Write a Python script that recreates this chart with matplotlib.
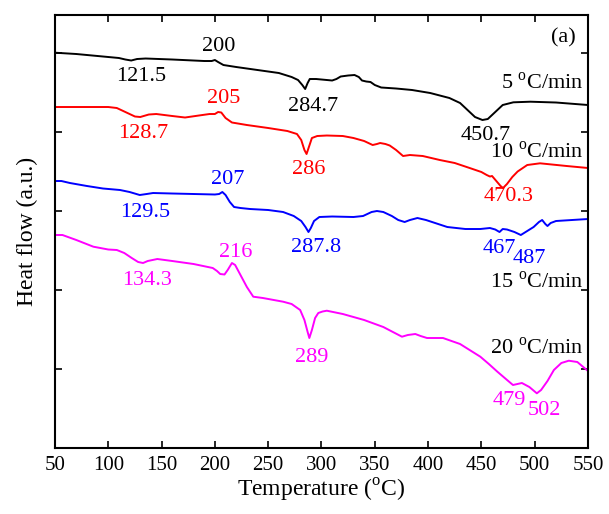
import matplotlib
matplotlib.use("Agg")
import matplotlib.pyplot as plt

plt.rcParams['font.family'] = ['Liberation Serif', 'DejaVu Serif']
plt.rcParams['mathtext.fontset'] = 'custom'
plt.rcParams['mathtext.rm'] = 'Liberation Serif'

# heat flow curves (a.u., offset for display)
t_5 = [50, 70, 90, 110, 116, 121.5, 127, 135, 160, 190, 197, 200, 203, 208, 220, 240, 260, 272, 278, 282, 284.7, 287, 289, 295, 305, 310, 314, 318, 325, 331, 335, 338, 342, 346, 350, 356, 370, 385, 402, 420, 430, 437, 444, 451, 456, 463, 470, 480, 496, 520, 550]
hf_5 = [395.3, 394, 392, 390, 388.5, 387.5, 389, 389.5, 388.5, 387, 387, 388, 386, 383, 381, 378, 375, 371, 368, 363, 359, 365, 369, 369, 368, 367.5, 369, 371.5, 372.5, 373, 371, 367.5, 366.5, 366, 363, 360.5, 359.5, 358, 355, 350, 345, 338, 331, 328, 329, 336, 343, 345.7, 346.3, 345.5, 343]

t_10 = [50, 100, 108, 118, 125, 130, 138, 145, 160, 172, 185, 195, 200, 203, 206, 210, 216, 230, 250, 268, 277, 281, 284, 286, 288.5, 291, 296, 305, 320, 330, 340, 348, 352, 355, 360, 364, 370, 376.5, 383, 395, 411, 425, 439, 450, 455, 458, 460, 464, 468, 470.3, 474, 479, 484, 493, 505, 530, 550]
hf_10 = [341, 341, 340, 335, 331.5, 331, 333.5, 334, 332, 330.5, 332.5, 334, 334, 336, 335.5, 330, 325.5, 323, 320, 317, 314, 308, 298, 294, 302, 310, 312, 312.5, 312, 310, 307, 303, 304, 305, 304, 302.5, 298, 292, 293, 292, 288, 285, 280, 276, 273, 271.5, 272, 267, 262, 260, 264, 271, 276.5, 283, 284.7, 282, 280]

t_15 = [50, 56, 64, 80, 95, 111, 120, 129.5, 136, 142, 160, 180, 200, 204, 207, 210, 214, 218, 224, 233, 250, 264, 274, 281, 285, 287.8, 290, 293, 298, 310, 330, 339, 347, 352, 358, 366, 372, 378, 383, 390, 398, 418, 435, 449, 458, 463, 467, 470, 474, 481, 487, 493, 499, 504, 507, 510, 512, 515, 520, 535, 550]
hf_15 = [267, 267, 265, 262, 259.5, 258, 256, 253, 254, 255, 254.5, 254, 253.5, 254, 256, 253, 246, 241, 240, 239, 238, 236, 232, 227, 221, 216, 220, 227, 231, 231.5, 231, 232, 236, 237, 236, 232, 228, 226, 228, 230, 228, 221, 219, 219, 220, 218.5, 216, 219, 218.5, 216, 213, 217, 221, 226, 228, 224, 222, 225, 227, 228, 229]

t_20 = [50, 57, 70, 86, 100, 108, 115, 122, 128, 132.6, 137, 146, 160, 180, 198, 202, 205, 209, 212, 216, 219, 224, 230, 236, 245, 264, 272, 280, 284, 287, 288.6, 291, 294, 297, 301, 305, 320, 340, 358, 367, 375.5, 381, 388, 393, 399, 414, 430, 449, 457, 465, 473, 479.6, 488, 495, 502, 506, 512, 518, 525, 532, 540, 550]
hf_20 = [213, 213, 208, 201.3, 198.5, 198, 195, 190, 186, 185, 187, 189, 187, 184, 180, 177, 174, 173.5, 178, 185, 183, 173, 161, 151.3, 150, 146.3, 144, 138, 128, 116, 110, 118, 130, 135, 136.5, 137.3, 134, 128, 121, 116, 111.3, 113, 114, 112, 110, 110, 104, 91.3, 84, 76.3, 69, 63, 65, 61, 54.7, 58, 67, 78, 85, 87.3, 86, 77]

curves = [(t_5, hf_5, 'black'), (t_10, hf_10, 'red'),
          (t_15, hf_15, 'blue'), (t_20, hf_20, 'magenta')]

# peak labels: (text, temperature, y, colour)
peak_labels = [
    ('200', 203.8, 402, 'black'), ('121.5', 131.3, 372, 'black'),
    ('284.7', 292, 342, 'black'), ('450.7', 454.3, 313, 'black'),
    ('205', 208.5, 350, 'red'), ('128.7', 132.8, 315, 'red'),
    ('286', 287.8, 279, 'red'), ('470.3', 475.9, 252, 'red'),
    ('207', 212.3, 269, 'blue'), ('129.5', 134.9, 236, 'blue'),
    ('287.8', 294.8, 201, 'blue'), ('467', 466.5, 200, 'blue'),
    ('487', 494.7, 190, 'blue'),
    ('216', 219.8, 196, 'magenta'), ('134.3', 136.3, 168, 'magenta'),
    ('289', 291.1, 91, 'magenta'), ('479', 475.9, 48, 'magenta'),
    ('502', 508.7, 38, 'magenta'),
]
rate_labels = [('5', 365), ('10', 296), ('15', 166), ('20', 100)]

fig = plt.figure(figsize=(6.09, 5.14), dpi=100)
ax = fig.add_axes([0.0903, 0.1284, 0.8752, 0.8424])

for t, hf, c in curves:
    ax.plot(t, hf, color=c, lw=1.4)

for txt, x, y, c in peak_labels:
    ax.text(x, y, txt, color=c, fontsize=16, ha='center', va='center')
for rate, y in rate_labels:
    ax.text(546, y, rate + r' $^{\rm o}$C/min', color='black', fontsize=16, ha='right', va='center')
ax.text(526.5, 410, '(a)', fontsize=16, ha='center', va='center')

ax.set_xlim(50, 550)
ax.set_ylim(0, 433)
ax.set_xticks(range(50, 551, 50))
ax.set_yticks([0, 79, 158, 237, 316, 395])
ax.set_yticklabels([])
ax.tick_params(direction='in', top=True, right=True, length=5, width=1.2, labelsize=15, pad=6)
for s in ax.spines.values():
    s.set_linewidth(1.5)
ax.set_xlabel(r'Temperature ($^{\rm o}$C)', fontsize=17, labelpad=1)
ax.set_ylabel('Heat flow (a.u.)', fontsize=17, labelpad=6)

fig.savefig('out.png', dpi=100)
